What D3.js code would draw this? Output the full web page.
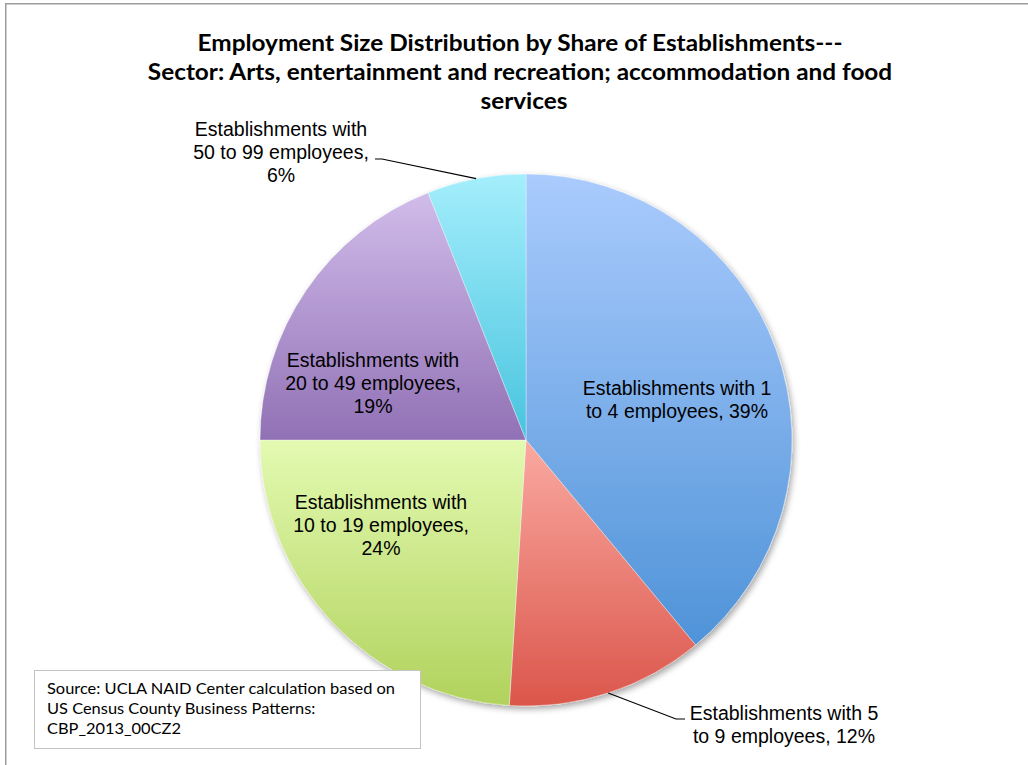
<!DOCTYPE html>
<html><head><meta charset="utf-8">
<script src="https://cdn.jsdelivr.net/npm/d3@7"></script>
<style>html,body{margin:0;padding:0;background:#fff;}svg{display:block;}</style>
</head><body>
<svg id="chart" width="1028" height="765"></svg>
<script>
// ---- data ----
const categories = [
  "Establishments with 1 to 4 employees",
  "Establishments with 5 to 9 employees",
  "Establishments with 10 to 19 employees",
  "Establishments with 20 to 49 employees",
  "Establishments with 50 to 99 employees"
];
const values = [39, 12, 24, 19, 6];
const labelLines = [
  ["Establishments with 1", "to 4 employees, 39%"],
  ["Establishments with 5", "to 9 employees, 12%"],
  ["Establishments with", "10 to 19 employees,", "24%"],
  ["Establishments with", "20 to 49 employees,", "19%"],
  ["Establishments with", "50 to 99 employees,", "6%"]
];
const titleLines = [
  "Employment Size Distribution by Share of Establishments---",
  "Sector: Arts, entertainment and recreation; accommodation and food",
  "services"
];
const sourceLines = [
  "Source: UCLA NAID Center calculation based on",
  "US Census County Business Patterns:",
  "CBP_2013_00CZ2"
];
const colorTop = ["#aacbfd", "#faa9a1", "#e3fab1", "#d1bcea", "#a4eefc"];
const colorBottom = ["#4f93d8", "#db564b", "#b1d25d", "#9171b5", "#48c4de"];

// ---- layout ----
const W = 1028, H = 765;
const cx = 526, cy = 440, R = 266;
const labelLayout = [
  {dx: 151, dy: -45, inside: true},
  {dx: 258, dy: 280, inside: false, leader: [[150, 279], [159, 279]]},
  {dx: -145, dy: 69, inside: true},
  {dx: -153, dy: -73, inside: true},
  {dx: -245, dy: -304, inside: false, leader: [[-144, -281], [-151, -281]]}
];

const svg = d3.select("#chart");
const defs = svg.append("defs");

// outer frame
svg.append("rect").attr("x", 5.75).attr("y", 3.75).attr("width", 1100).attr("height", 900)
  .attr("fill", "none").attr("stroke", "#9c9c9c").attr("stroke-width", 1.5);

// title
const title = svg.append("g").attr("font-family", "Lato, 'Open Sans', sans-serif")
  .attr("font-weight", "bold").attr("font-size", 23.5).attr("fill", "#000");
const titleY = [51, 80, 109];
const titleX = [520, 520, 524];
const tnodes = titleLines.map((t, i) => title.append("text").attr("x", titleX[i]).attr("y", titleY[i])
  .attr("text-anchor", "middle").text(t));
const tRatio = 645 / tnodes[0].node().getComputedTextLength();
tnodes.forEach(n => n.attr("textLength", n.node().getComputedTextLength() * tRatio).attr("lengthAdjust", "spacingAndGlyphs"));

// shadow filter
const f = defs.append("filter").attr("id", "shadow").attr("x", "-10%").attr("y", "-10%").attr("width", "130%").attr("height", "130%");
f.append("feDropShadow").attr("dx", 2).attr("dy", 3).attr("stdDeviation", 3).attr("flood-color", "#000").attr("flood-opacity", 0.35);

// gradients
values.forEach((v, i) => {
  const g = defs.append("linearGradient").attr("id", "grad" + i)
    .attr("x1", 0).attr("y1", 0).attr("x2", 0).attr("y2", 1);
  g.append("stop").attr("offset", "0%").attr("stop-color", colorTop[i]);
  g.append("stop").attr("offset", "100%").attr("stop-color", colorBottom[i]);
});

const pie = d3.pie().sort(null).value(d => d)(values);
const arc = d3.arc().innerRadius(0).outerRadius(R);

const pg = svg.append("g").attr("transform", `translate(${cx},${cy})`);
pg.append("g").attr("filter", "url(#shadow)").selectAll("path").data(pie).join("path")
  .attr("d", arc).attr("fill", (d, i) => `url(#grad${i})`)
  .attr("stroke", "rgba(255,255,255,0.45)").attr("stroke-width", 0.8);

// labels
const lg = pg.append("g").attr("font-family", "'Liberation Sans', Arial, sans-serif")
  .attr("font-size", 19.5).attr("fill", "#000");
pie.forEach((d, i) => {
  const L = labelLayout[i];
  const t = lg.append("text").attr("text-anchor", "middle");
  labelLines[i].forEach((line, j) => {
    t.append("tspan").attr("x", L.dx).attr("y", L.dy + j * 23).text(line);
  });
  if (!L.inside) {
    const mid = (d.startAngle + d.endAngle) / 2;
    const p0 = [Math.sin(mid) * R, -Math.cos(mid) * R];
    const pts = [p0, ...L.leader];
    pg.append("path").attr("d", d3.line()(pts)).attr("fill", "none")
      .attr("stroke", "#000").attr("stroke-width", 1.2);
  }
});

// source box
const sb = svg.append("g");
sb.append("rect").attr("x", 34.5).attr("y", 670.5).attr("width", 386).attr("height", 78)
  .attr("fill", "#fff").attr("stroke", "#c4c4c4").attr("stroke-width", 1);
const snodes = sourceLines.map((t, i) => sb.append("text").attr("x", 47).attr("y", 694 + i * 20)
  .attr("font-family", "Lato, 'Open Sans', sans-serif").attr("font-size", 15.5).attr("fill", "#000").text(t));
const sRatio = 348 / snodes[0].node().getComputedTextLength();
snodes.forEach(n => n.attr("textLength", n.node().getComputedTextLength() * sRatio).attr("lengthAdjust", "spacingAndGlyphs"));
</script>
</body></html>
